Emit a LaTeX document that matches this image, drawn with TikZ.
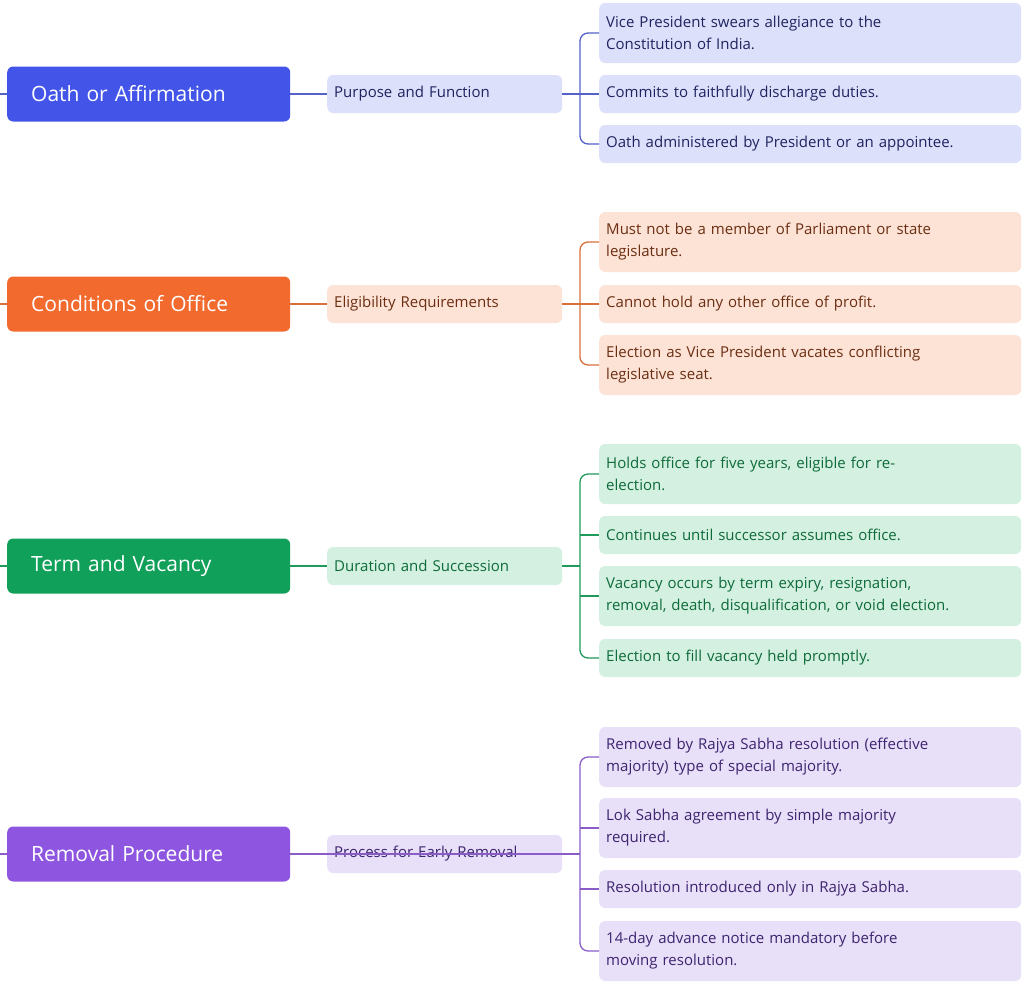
\documentclass[tikz,border=0pt]{standalone}
\usepackage{fontspec}
\setmainfont{Open Sans}
\begin{document}
\begin{tikzpicture}[x=1pt,y=-1pt,
 mainbox/.style={rounded corners=6pt,minimum width=283pt,minimum height=55pt,text=white,font=\fontsize{21}{24}\selectfont,anchor=west,inner xsep=24pt,text width=235pt,align=left},
 midbox/.style={rounded corners=6pt,minimum width=235pt,minimum height=38pt,font=\fontsize{15}{18}\selectfont,anchor=west,inner xsep=7pt,text width=221pt,align=left},
 leafbox/.style={rounded corners=6pt,minimum width=422pt,font=\fontsize{15}{22}\selectfont,anchor=west,inner xsep=7pt,text width=408pt,align=left},
 one/.style={leafbox,minimum height=38pt},
 two/.style={leafbox,minimum height=60pt},
 conn/.style={line width=1.3pt,rounded corners=8pt}]
\useasboundingbox (0,0) rectangle (1024,991);
\definecolor{bA}{HTML}{4355E8}\definecolor{fA}{HTML}{DDE0FA}\definecolor{tA}{HTML}{1F2460}\definecolor{lA}{HTML}{5561C9}
\definecolor{bB}{HTML}{F26A2E}\definecolor{fB}{HTML}{FDE3D6}\definecolor{tB}{HTML}{6B2E12}\definecolor{lB}{HTML}{D9703A}
\definecolor{bC}{HTML}{11A05A}\definecolor{fC}{HTML}{D3F0E0}\definecolor{tC}{HTML}{0E6B3A}\definecolor{lC}{HTML}{1E9A5A}
\definecolor{bD}{HTML}{8E56E0}\definecolor{fD}{HTML}{E8DFF8}\definecolor{tD}{HTML}{3D2470}\definecolor{lD}{HTML}{8A5CC8}
% Group A
\coordinate (sa) at (0,94);
\node[mainbox,fill=bA] (ma) at (7,94) {Oath or Affirmation};
\node[midbox,fill=fA,text=tA] (pa) at (327,94) {Purpose and Function};
\node[two,fill=fA,text=tA] (a1) at (599,33) {Vice President swears allegiance to the\\Constitution of India.};
\node[one,fill=fA,text=tA] (a2) at (599,94) {Commits to faithfully discharge duties.};
\node[one,fill=fA,text=tA] (a3) at (599,144) {Oath administered by President or an appointee.};
\draw[conn,lA] (sa) -- (ma.west) (ma.east) -- (pa.west);
\draw[conn,lA] (pa.east) -- (a2.west);
\draw[conn,lA] (a1.west) -| (580,94) |- (a3.west);
% Group B
\coordinate (sb) at (0,304);
\node[mainbox,fill=bB] (mb) at (7,304) {Conditions of Office};
\node[midbox,fill=fB,text=tB] (pb) at (327,304) {Eligibility Requirements};
\node[two,fill=fB,text=tB] (b1) at (599,242) {Must not be a member of Parliament or state\\legislature.};
\node[one,fill=fB,text=tB] (b2) at (599,304) {Cannot hold any other office of profit.};
\node[two,fill=fB,text=tB] (b3) at (599,365) {Election as Vice President vacates conflicting\\legislative seat.};
\draw[conn,lB] (sb) -- (mb.west) (mb.east) -- (pb.west);
\draw[conn,lB] (pb.east) -- (b2.west);
\draw[conn,lB] (b1.west) -| (580,304) |- (b3.west);
% Group C
\coordinate (sc) at (0,566);
\node[mainbox,fill=bC] (mc) at (7,566) {Term and Vacancy};
\node[midbox,fill=fC,text=tC] (pc) at (327,566) {Duration and Succession};
\node[two,fill=fC,text=tC] (c1) at (599,474) {Holds office for five years, eligible for re-\\election.};
\node[one,fill=fC,text=tC] (c2) at (599,535) {Continues until successor assumes office.};
\node[two,fill=fC,text=tC] (c3) at (599,596) {Vacancy occurs by term expiry, resignation,\\removal, death, disqualification, or void election.};
\node[one,fill=fC,text=tC] (c4) at (599,658) {Election to fill vacancy held promptly.};
\draw[conn,lC] (sc) -- (mc.west) (mc.east) -- (pc.west);
\draw[conn,lC] (pc.east) -- (580,566);
\draw[conn,lC] (c1.west) -| (580,566) |- (c4.west);
\draw[conn,lC] (580,535) -- (c2.west) (580,596) -- (c3.west);
% Group D
\coordinate (sd) at (0,854);
\node[mainbox,fill=bD] (md) at (7,854) {Removal Procedure};
\node[midbox,fill=fD,text=tD] (pd) at (327,854) {Process for Early Removal};
\node[two,fill=fD,text=tD] (d1) at (599,757) {Removed by Rajya Sabha resolution (effective\\majority) type of special majority.};
\node[two,fill=fD,text=tD] (d2) at (599,828) {Lok Sabha agreement by simple majority\\required.};
\node[one,fill=fD,text=tD] (d3) at (599,889) {Resolution introduced only in Rajya Sabha.};
\node[two,fill=fD,text=tD] (d4) at (599,951) {14-day advance notice mandatory before\\moving resolution.};
\draw[conn,lD] (sd) -- (md.west) (md.east) -- (580,854);
\draw[conn,lD] (d1.west) -| (580,854) |- (d4.west);
\draw[conn,lD] (580,828) -- (d2.west) (580,889) -- (d3.west);
\end{tikzpicture}
\end{document}
